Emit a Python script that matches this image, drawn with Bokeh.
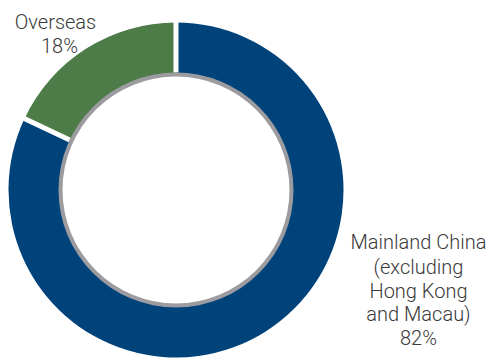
import math
from bokeh.plotting import figure
from bokeh.models import ColumnDataSource
from bokeh.core.properties import value
from bokeh.embed import file_html
from bokeh.resources import INLINE

# Data
categories = ["Mainland China (excluding Hong Kong and Macau)", "Overseas"]
shares = [82, 18]
colors = ["#00437b", "#4e7c48"]
label_lines = [
    ["Mainland China", "(excluding", "Hong Kong", "and Macau)", "82%"],
    ["Overseas", "18%"],
]

W, H = 489, 359
p = figure(width=W, height=H, x_range=(0, W), y_range=(0, H),
           output_backend="svg", toolbar_location=None, min_border=0)
p.axis.visible = False
p.grid.visible = False
p.outline_line_color = None
p.background_fill_color = "white"
p.border_fill_color = "white"

cx, cy = 175.5, H - 189.5
r_out, r_in = 167.5, 117.5

# Mainland drawn clockwise from top, overseas anticlockwise from top
total = sum(shares)
ov_frac = shares[1] / total
top = math.pi / 2
starts = [top + 2 * math.pi * ov_frac, top]
ends = [top + 2 * math.pi, top + 2 * math.pi * ov_frac]
src = ColumnDataSource(dict(start=starts, end=ends, color=colors, cat=categories))
p.annular_wedge(x=cx, y=cy, inner_radius=r_in - 1, outer_radius=r_out,
                start_angle="start", end_angle="end", fill_color="color",
                line_color=None, source=src)

# white separators at boundaries
bangs = [top, top + 2 * math.pi * ov_frac]
xs = [[cx + r_in * math.cos(a), cx + (r_out + 2) * math.cos(a)] for a in bangs]
ys = [[cy + r_in * math.sin(a), cy + (r_out + 2) * math.sin(a)] for a in bangs]
p.multi_line(xs=xs, ys=ys, line_color="white", line_width=5)

# gray inner ring
p.annulus(x=cx, y=cy, inner_radius=r_in - 4, outer_radius=r_in,
          fill_color="#9b9ba0", line_color=None)

font = value("Roboto Light")
tc = "#3a3a3a"
fs = "20px"
# Mainland label
mx = 418
mys = [241.7, 266.7, 290.3, 313.5, 337.3]
p.text(x=[mx] * len(label_lines[0]), y=[H - y for y in mys], text=label_lines[0],
       text_font=font, text_font_size=fs, text_color=tc,
       text_align="center", text_baseline="alphabetic")
# Overseas label
ox = [55, 59]
oys = [21.7, 45.0]
p.text(x=ox, y=[H - y for y in oys], text=label_lines[1],
       text_font=font, text_font_size=fs, text_color=tc,
       text_align="center", text_baseline="alphabetic")

open("out.html", "w").write(file_html(p, INLINE))
